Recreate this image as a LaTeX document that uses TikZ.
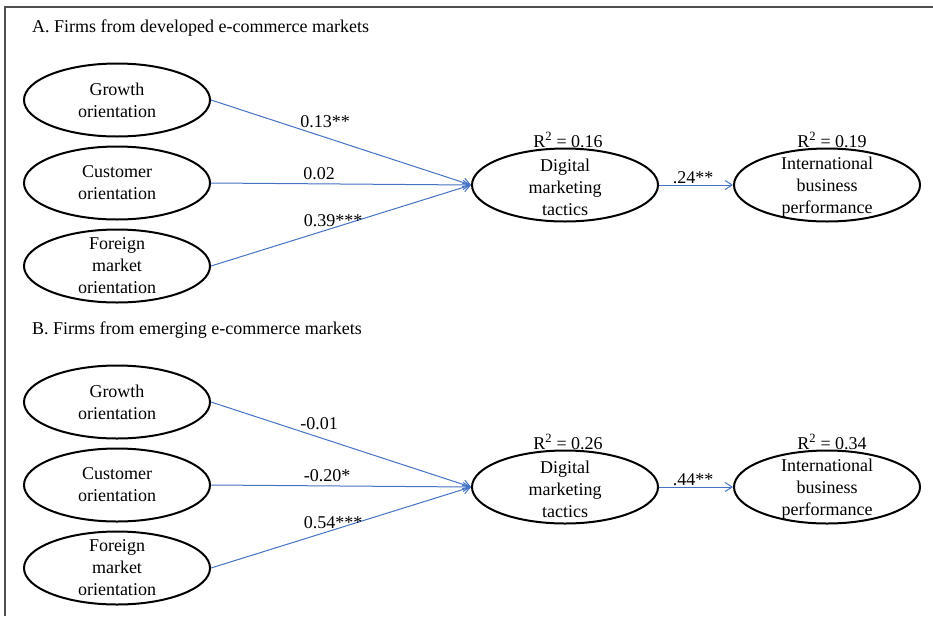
\documentclass[tikz,border=0pt]{standalone}
\usepackage{fontspec}
\setmainfont{Liberation Serif}
\usetikzlibrary{shapes.geometric,arrows.meta}
\definecolor{linkblue}{RGB}{68,114,196}
\definecolor{framegray}{RGB}{80,80,80}
\begin{document}
\begin{tikzpicture}[x=1pt,y=-1pt,
  oval/.style={ellipse,draw,line width=2pt,minimum width=186pt,minimum height=73pt,inner sep=0pt},
  txt/.style={align=center,font=\fontsize{18}{22}\selectfont,inner sep=0pt},
  lab/.style={font=\fontsize{18}{20}\selectfont,inner sep=0pt},
  link/.style={draw=linkblue,line width=1pt,-{Straight Barb[length=7pt,width=9pt]}}]
\useasboundingbox (0,0) rectangle (933,616);
\draw[framegray,line width=1.2pt] (5,616) -- (5,7) -- (933,7);

% Panel A
\node[lab,anchor=west] (ta) at (32,28) {A. Firms from developed e-commerce markets};
\node[oval] (ga) at (117,100) {};
\node[txt] at (ga.center) {Growth\\orientation};
\node[oval] (ca) at (117,183) {};
\node[txt] at (ca.center) {Customer\\orientation};
\node[oval] (fa) at (117,266) {};
\node[txt] at (fa.center) {Foreign\\market\\orientation};
\node[oval] (da) at (565,185) {};
\node[txt] at ([yshift=-2pt]da.center) {Digital\\marketing\\tactics};
\node[oval] (ia) at (827,185) {};
\node[txt] at ([yshift=-2pt]ia.center) {International\\business\\performance};
\node[lab] (ra) at (568,140) {R\textsuperscript{2} = 0.16};
\node[lab] (rb) at (832,140) {R\textsuperscript{2} = 0.19};
\draw[link] (ga.east) -- (da.west);
\draw[link] (ca.east) -- (da.west);
\draw[link] (fa.east) -- (da.west);
\draw[link] (da.east) -- (ia.west);
\node[lab] at (325,122) {0.13**};
\node[lab] at (319,174) {0.02};
\node[lab] at (333,221) {0.39***};
\node[lab] at (693,178) {.24**};

% Panel B
\node[lab,anchor=west] (tb) at (32,330) {B. Firms from emerging e-commerce markets};
\node[oval] (gb) at (117,402) {};
\node[txt] at (gb.center) {Growth\\orientation};
\node[oval] (cb) at (117,485) {};
\node[txt] at (cb.center) {Customer\\orientation};
\node[oval] (fb) at (117,568) {};
\node[txt] at (fb.center) {Foreign\\market\\orientation};
\node[oval] (db) at (565,487) {};
\node[txt] at ([yshift=-2pt]db.center) {Digital\\marketing\\tactics};
\node[oval] (ib) at (827,487) {};
\node[txt] at ([yshift=-2pt]ib.center) {International\\business\\performance};
\node[lab] (rc) at (568,442) {R\textsuperscript{2} = 0.26};
\node[lab] (rd) at (832,442) {R\textsuperscript{2} = 0.34};
\draw[link] (gb.east) -- (db.west);
\draw[link] (cb.east) -- (db.west);
\draw[link] (fb.east) -- (db.west);
\draw[link] (db.east) -- (ib.west);
\node[lab] at (319,424) {-0.01};
\node[lab] at (327,476) {-0.20*};
\node[lab] at (333,523) {0.54***};
\node[lab] at (693,480) {.44**};
\end{tikzpicture}
\end{document}
